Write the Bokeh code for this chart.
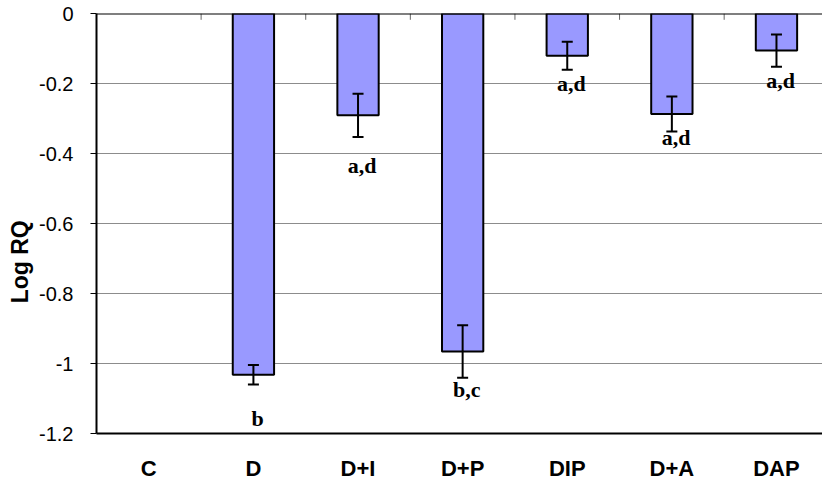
from bokeh.plotting import figure
from bokeh.models import (ColumnDataSource, Range1d, FixedTicker, LinearAxis,
                          Whisker, TeeHead, Span)
from bokeh.core.properties import value
from bokeh.embed import file_html
from bokeh.resources import INLINE

categories = ["C", "D", "D+I", "D+P", "DIP", "D+A", "DAP"]
log_rq = [0.0, -1.032, -0.291, -0.966, -0.121, -0.287, -0.106]
err = [0.0, 0.028, 0.062, 0.075, 0.040, 0.050, 0.046]
letters = ["", "b", "a,d", "b,c", "a,d", "a,d", "a,d"]
letter_y = [0.0, -1.158, -0.434, -1.075, -0.199, -0.354, -0.191]
y_ticks = [0, -0.2, -0.4, -0.6, -0.8, -1.0, -1.2]
y_tick_labels = ["0", "-0.2", "-0.4", "-0.6", "-0.8", "-1", "-1.2"]

n = len(categories)
xs = [i + 0.5 for i in range(n)]
bar_idx = [i for i, v in enumerate(log_rq) if v != 0]
src = ColumnDataSource(dict(x=[xs[i] for i in bar_idx],
                            top=[0.0] * len(bar_idx),
                            bottom=[log_rq[i] for i in bar_idx]))
has_err = [i for i, e in enumerate(err) if e > 0]
err_src = ColumnDataSource(dict(
    x=[xs[i] for i in has_err],
    upper=[log_rq[i] + err[i] for i in has_err],
    lower=[log_rq[i] - err[i] for i in has_err],
))
lab_idx = [i for i, t in enumerate(letters) if t]
lab_src = ColumnDataSource(dict(
    x=[xs[i] + 0.04 for i in lab_idx],
    y=[letter_y[i] for i in lab_idx],
    t=[letters[i] for i in lab_idx],
))
bounds = list(range(1, n))
tick_src = ColumnDataSource(dict(x=bounds, y0=[0.0] * len(bounds),
                                 y1=[-0.018] * len(bounds)))

p = figure(width=822, height=487, output_backend="svg", toolbar_location=None,
           x_range=Range1d(0, 6.94), y_range=Range1d(-1.2, 0),
           x_axis_location=None, y_axis_location=None,
           min_border_left=96, min_border_top=13, min_border_bottom=54,
           min_border_right=0)
p.outline_line_color = None
p.background_fill_color = "white"
p.border_fill_color = "white"

# grid
p.xgrid.visible = False
p.ygrid.ticker = FixedTicker(ticks=y_ticks)
p.ygrid.grid_line_color = "#8c8c8c"
p.ygrid.grid_line_width = 1

# left axis
yax = LinearAxis(ticker=FixedTicker(ticks=y_ticks))
yax.major_label_overrides = {t: l for t, l in zip(y_ticks, y_tick_labels)}
yax.axis_line_color = "black"
yax.axis_line_width = 2
yax.major_tick_in = 0
yax.major_tick_out = 6
yax.major_tick_line_color = "black"
yax.minor_tick_line_color = None
yax.major_label_standoff = 17
yax.major_label_text_font = "Liberation Sans"
yax.major_label_text_font_size = "20px"
yax.major_label_text_color = "black"
yax.axis_label = "Log RQ" + "\u00a0" * 12
yax.axis_label_standoff = 3
yax.axis_label_text_font = "Liberation Sans"
yax.axis_label_text_font_style = "bold"
yax.axis_label_text_font_size = "23px"
yax.axis_label_text_color = "black"
p.add_layout(yax, "left")

# bottom axis with category labels
xax = LinearAxis(ticker=FixedTicker(ticks=xs))
xax.major_label_overrides = {x: c for x, c in zip(xs, categories)}
xax.axis_line_color = "black"
xax.axis_line_width = 2
xax.major_tick_in = 0
xax.major_tick_out = 0
xax.minor_tick_line_color = None
xax.major_label_standoff = 22
xax.major_label_text_font = "Liberation Sans"
xax.major_label_text_font_style = "bold"
xax.major_label_text_font_size = "22px"
xax.major_label_text_color = "black"
p.add_layout(xax, "below")

p.vbar(x="x", top="top", bottom="bottom", width=0.395, source=src,
       fill_color="#9999FF", line_color="black", line_width=2)

# category-boundary tick marks on the zero line (pointing inward)
p.segment(x0="x", y0="y0", x1="x", y1="y1", source=tick_src,
          line_color="#666666", line_width=1)

wh = Whisker(base="x", upper="upper", lower="lower", source=err_src,
             line_color="black", line_width=2, level="overlay",
             upper_head=TeeHead(size=11, line_color="black", line_width=2),
             lower_head=TeeHead(size=11, line_color="black", line_width=2))
p.add_layout(wh)

# zero line (category axis crossing at 0)
p.add_layout(Span(location=0, dimension="width", line_color="black",
                  line_width=2))

p.text(x="x", y="y", text="t", source=lab_src,
       text_font=value("Liberation Serif"), text_font_style="bold",
       text_font_size="22px", text_align="center", text_baseline="middle",
       text_color="black")

open("out.html", "w").write(file_html(p, INLINE))
